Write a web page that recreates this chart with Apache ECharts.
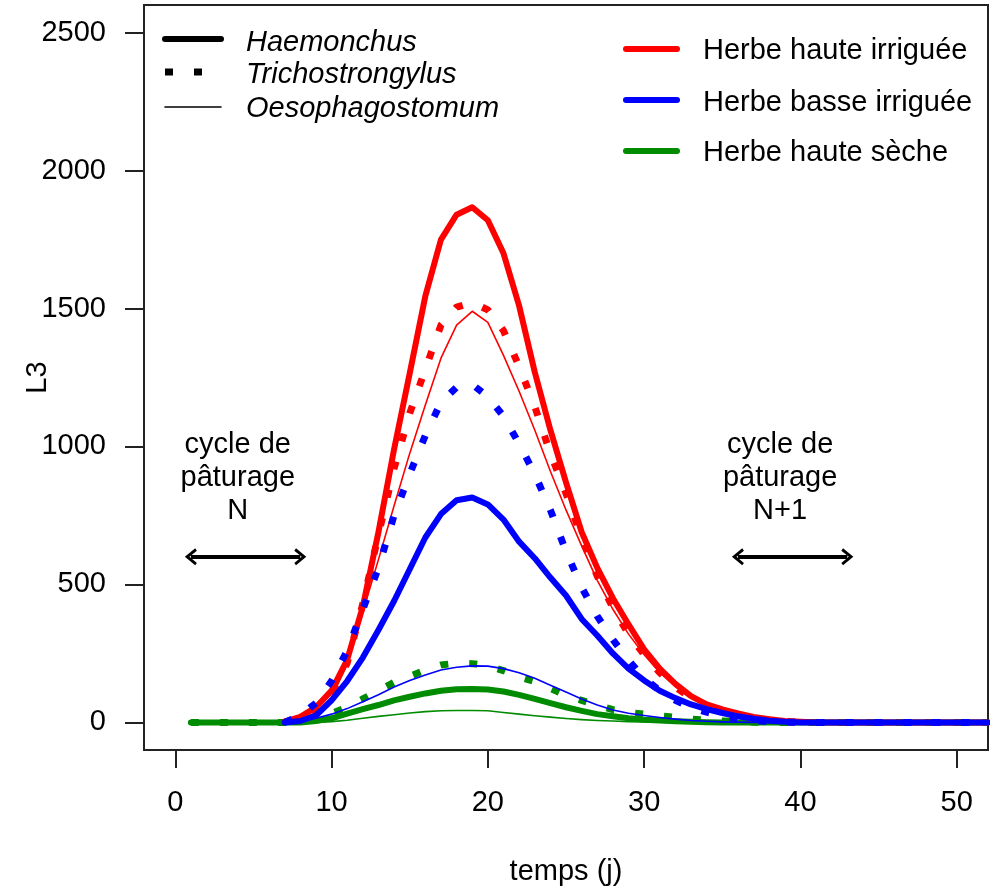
<!DOCTYPE html>
<html>
<head>
<meta charset="utf-8">
<script src="https://cdn.jsdelivr.net/npm/echarts@6/dist/echarts.min.js"></script>
<style>
  html, body { margin: 0; padding: 0; background: #fff; }
  #chart { width: 990px; height: 886px; }
</style>
</head>
<body>
<div id="chart"></div>
<script>
// temps (jours)
const days = [1,2,3,4,5,6,7,8,9,10,11,12,13,14,15,16,17,18,19,20,21,22,23,24,25,26,
  27,28,29,30,31,32,33,34,35,36,37,38,39,40,41,42,43,44,45,46,47,48,49,50,51,52]

// Herbe haute irriguée
const hhiHaem = [null,null,null,null,null,null,3,20,55,115,227,420,690,990,1265,1545,1750,1840,1867,1820,
  1700,1510,1270,1060,870,690,560,450,355,265,195,140,95,65,47,33,20,12,5,2,0,0,0,0,0,0,0,0,0,0,0,0]
const hhiTrich = [null,null,null,null,null,null,2,15,45,105,215,430,680,920,1120,1280,1440,1505,1522,1495,
  1420,1290,1145,975,830,670,530,415,320,245,180,128,88,60,40,26,15,8,3,1,0,0,0,0,0,0,0,0,0,0,0,0]
const hhiOeso = [null,null,null,null,null,null,1,10,35,90,210,400,590,785,975,1150,1320,1440,1490,1450,
  1330,1200,1060,910,770,640,515,410,320,245,180,130,88,60,42,28,17,9,4,1,0,0,0,0,0,0,0,0,0,0,0,0]

// Herbe basse irriguée
const hbiHaem = [null,null,null,null,null,null,0,5,25,80,150,235,335,440,555,670,755,805,815,790,
  735,655,595,525,460,375,315,250,195,152,115,88,65,48,34,22,13,6,2,0,0,0,0,0,0,0,0,0,0,0,0,0]
const hbiTrich = [null,null,null,null,null,null,0,25,70,150,260,410,560,750,900,1040,1160,1215,1225,1180,
  1110,1010,900,770,620,490,385,300,225,160,115,80,55,37,24,14,7,3,1,0,0,0,0,0,0,0,0,0,0,0,0,0]
const hbiOeso = [null,null,null,null,null,null,0,3,15,30,50,75,100,128,152,172,190,200,205,204,
  195,180,160,135,110,85,63,45,33,25,18,12,7,4,2,1,0,0,0,0,0,0,0,0,0,0,0,0,0,0,0,0]

// Herbe haute sèche
const hhsHaem = [0,0,0,0,0,0,0,0,5,15,32,48,63,80,93,105,115,120,121,119,
  112,100,85,70,55,42,30,22,15,10,7,4,2,1,0,0,0,0,0,0,0,0,0,0,0,0,0,0,0,0,0,0]
const hhsTrich = [0,0,0,0,0,0,0,5,15,32,55,85,115,145,167,190,208,215,213,205,
  188,165,148,123,98,80,62,46,36,30,24,18,12,8,5,3,1,0,0,0,0,0,0,0,0,0,0,0,0,0,0,0]
const hhsOeso = [0,0,0,0,0,0,0,0,0,3,8,15,22,28,34,39,42,43,43,42,
  36,30,24,19,14,10,7,5,3,2,1,0,0,0,0,0,0,0,0,0,0,0,0,0,0,0,0,0,0,0,0,0]

const xTicks = [0, 10, 20, 30, 40, 50]
const yTicks = [0, 500, 1000, 1500, 2000, 2500]

const speciesNames = ['Haemonchus', 'Trichostrongylus', 'Oesophagostomum']
const habitatNames = ['Herbe haute irriguée', 'Herbe basse irriguée', 'Herbe haute sèche']
const habitatColors = ['#ff0000', '#0000ff', '#008b00']

// flèches "cycle de pâturage"
const arrowSpans = [[1, 8], [36, 43]]
const arrowY = 600
const cycleLabels = ['cycle de\npâturage\nN', 'cycle de\npâturage\nN+1']
const cycleX = [4, 38.7]
const cycleY = 884

const FONT = '"Liberation Sans", Arial, sans-serif'
const FS = 29

const styles = {
  Haemonchus: { width: 6, type: 'solid', cap: 'round', join: 'round' },
  Trichostrongylus: { width: 7, type: [8, 21], cap: 'butt', join: 'round' },
  Oesophagostomum: { width: 1.6, type: 'solid', cap: 'round', join: 'round' }
}

const table = [
  [habitatColors[2], 'Haemonchus', hhsHaem],
  [habitatColors[2], 'Trichostrongylus', hhsTrich],
  [habitatColors[2], 'Oesophagostomum', hhsOeso],
  [habitatColors[0], 'Haemonchus', hhiHaem],
  [habitatColors[0], 'Trichostrongylus', hhiTrich],
  [habitatColors[0], 'Oesophagostomum', hhiOeso],
  [habitatColors[1], 'Haemonchus', hbiHaem],
  [habitatColors[1], 'Trichostrongylus', hbiTrich],
  [habitatColors[1], 'Oesophagostomum', hbiOeso]
]

const chevron = 'path://M50,0 L100,72 L86,84 L50,32 L14,84 L0,72 Z'

const series = table.map(([color, sp, vals], i) => {
  const s = {
    type: 'line',
    data: days.map((d, k) => [d, vals[k]]),
    showSymbol: false,
    symbol: 'none',
    silent: true,
    connectNulls: false,
    lineStyle: Object.assign({ color: color }, styles[sp])
  }
  if (i === 0) {
    s.markLine = {
      silent: true,
      symbol: [chevron, chevron],
      symbolSize: [17, 12],
      label: { show: false },
      lineStyle: { color: '#000', width: 4, type: 'solid' },
      emphasis: { disabled: true },
      data: arrowSpans.map(([a, b]) => [{ coord: [a, arrowY] }, { coord: [b, arrowY] }])
    }
    s.markPoint = {
      silent: true,
      symbol: 'rect',
      symbolSize: 1,
      itemStyle: { color: 'rgba(0,0,0,0)' },
      label: {
        show: true, position: 'inside', formatter: p => p.name,
        fontFamily: FONT, fontSize: FS, lineHeight: 33, color: '#000', align: 'center'
      },
      data: cycleLabels.map((t, k) => ({ name: t, coord: [cycleX[k], cycleY] }))
    }
  }
  return s
})

// légendes (dessinées à la main, comme dans R)
const graphic = []
const legLeftY = [39, 72, 107]
const legLeftTextY = [43, 75, 109]
speciesNames.forEach((sp, k) => {
  const st = styles[sp]
  graphic.push({
    type: 'line', shape: { x1: 165, y1: legLeftY[k], x2: 221, y2: legLeftY[k] },
    style: { stroke: '#000', lineWidth: st.width, lineDash: Array.isArray(st.type) ? st.type : null, lineCap: st.cap }
  })
  graphic.push({
    type: 'text', x: 246, y: legLeftTextY[k],
    style: { text: sp, fontFamily: FONT, fontSize: FS, fontStyle: 'italic', fill: '#000', verticalAlign: 'middle' }
  })
})
const legRightY = [49, 100, 151]
const legRightTextY = [51, 103, 153]
habitatNames.forEach((h, k) => {
  graphic.push({
    type: 'line', shape: { x1: 626, y1: legRightY[k], x2: 677, y2: legRightY[k] },
    style: { stroke: habitatColors[k], lineWidth: 6, lineCap: 'round' }
  })
  graphic.push({
    type: 'text', x: 703, y: legRightTextY[k],
    style: { text: h, fontFamily: FONT, fontSize: FS, fill: '#000', verticalAlign: 'middle' }
  })
})

const chart = echarts.init(document.getElementById('chart'))
chart.setOption({
  animation: false,
  backgroundColor: '#fff',
  grid: {
    left: 144, top: 5, right: 2, bottom: 136, show: true, borderColor: '#222', borderWidth: 2,
    containLabel: false, outerBoundsMode: 'none'
  },
  xAxis: {
    type: 'value', min: -2, max: 52,
    axisLine: { show: false, onZero: false },
    splitLine: { show: false },
    axisTick: { show: true, length: 18, lineStyle: { color: '#222', width: 2 }, customValues: xTicks },
    axisLabel: { customValues: xTicks, margin: 38, fontFamily: FONT, fontSize: FS, color: '#000', formatter: v => String(v) },
    name: 'temps (j)', nameLocation: 'middle', nameGap: 107, nameMoveOverlap: false,
    nameTextStyle: { fontFamily: FONT, fontSize: FS, color: '#000' }
  },
  yAxis: {
    type: 'value', min: -100, max: 2600,
    axisLine: { show: false, onZero: false },
    splitLine: { show: false },
    axisTick: { show: true, length: 19, lineStyle: { color: '#222', width: 2 }, customValues: yTicks },
    axisLabel: { customValues: yTicks, margin: 38, fontFamily: FONT, fontSize: FS, color: '#000', formatter: v => String(v) },
    name: 'L3', nameLocation: 'middle', nameGap: 92, nameRotate: 90, nameMoveOverlap: false,
    nameTextStyle: { fontFamily: FONT, fontSize: FS, color: '#000' }
  },
  graphic: graphic,
  series: series
})
</script>
</body>
</html>
